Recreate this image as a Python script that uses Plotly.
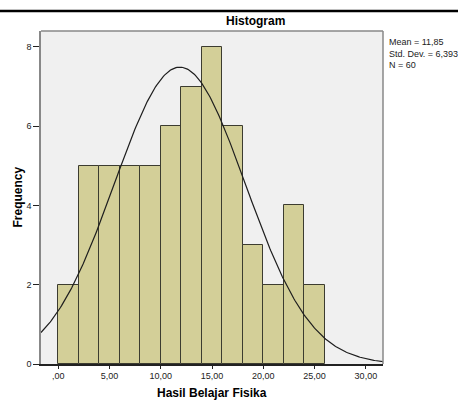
import numpy as np
import plotly.graph_objects as go

bin_left = [0, 2, 4, 6, 8, 10, 12, 14, 16, 18, 20, 22, 24]
counts = [2, 5, 5, 5, 5, 6, 7, 8, 6, 3, 2, 4, 2]
bin_width = 2
mean_val = 11.85
sd_val = 6.393
n_val = 60
x_ticks = [0, 5, 10, 15, 20, 25, 30]
x_tick_labels = [",00", "5,00", "10,00", "15,00", "20,00", "25,00", "30,00"]
y_ticks = [0, 2, 4, 6, 8]

W, H = 458, 401
L, R, T, B = 41, 383, 31, 364

def py(ypx):
    return (B - ypx) / (B - T)

def px(xpx):
    return (xpx - L) / (R - L)

centers = [b + bin_width / 2 for b in bin_left]

xc = np.linspace(-1.69, 31.67, 300)
yc = n_val * bin_width / (sd_val * np.sqrt(2 * np.pi)) * np.exp(-0.5 * ((xc - mean_val) / sd_val) ** 2)

fig = go.Figure()
fig.add_trace(go.Bar(
    x=centers, y=counts, width=[bin_width] * len(counts),
    marker=dict(color="#D3CF98", line=dict(color="#3C3C30", width=1)),
    showlegend=False, hoverinfo="skip"))
fig.add_trace(go.Scatter(
    x=xc, y=yc, mode="lines", line=dict(color="#1E1E1E", width=1.2),
    showlegend=False, hoverinfo="skip"))

fig.update_layout(
    width=W, height=H,
    margin=dict(l=L, r=W - R, t=T, b=H - B, pad=0),
    paper_bgcolor="white", plot_bgcolor="#F0F0F0",
    font=dict(family="Arial, Liberation Sans, sans-serif", size=9, color="#222"),
    bargap=0,
    xaxis=dict(range=[-1.69, 31.67], tickvals=x_ticks, ticktext=x_tick_labels,
               ticks="outside", ticklen=3, tickcolor="#222", showgrid=False,
               zeroline=False, showline=True, linecolor="#222", linewidth=1.5,
               mirror=False, tickfont=dict(size=9), ticklabelstandoff=-1),
    yaxis=dict(range=[0, 8.4], tickvals=y_ticks, ticks="outside", ticklen=6,
               tickcolor="#222", showgrid=False, zeroline=False, showline=True,
               linecolor="#888", linewidth=1.5, tickfont=dict(size=9)),
    shapes=[
        dict(type="line", xref="paper", yref="paper", x0=px(L), x1=px(R), y0=py(T), y1=py(T),
             line=dict(color="#888", width=1.5)),
        dict(type="line", xref="paper", yref="paper", x0=px(R), x1=px(R), y0=py(T), y1=py(B),
             line=dict(color="#888", width=1.5)),
        dict(type="line", xref="paper", yref="paper", x0=px(0), x1=px(W), y0=py(11), y1=py(11),
             line=dict(color="black", width=2.5)),
    ],
    annotations=[
        dict(text="<b>Histogram</b>", xref="paper", yref="paper", x=px(255), y=py(20.5),
             xanchor="center", yanchor="middle", showarrow=False, font=dict(size=12, color="black")),
        dict(text="<b>Hasil Belajar Fisika</b>", xref="paper", yref="paper", x=px(212), y=py(393),
             xanchor="center", yanchor="middle", showarrow=False, font=dict(size=12, color="black")),
        dict(text="<b>Frequency</b>", xref="paper", yref="paper", x=px(17), y=py(197.5),
             xanchor="center", yanchor="middle", textangle=-90, showarrow=False,
             font=dict(size=12, color="black")),
        dict(text="Mean = 11,85<br>Std. Dev. = 6,393<br>N = 60", xref="paper", yref="paper",
             x=px(387), y=py(35), xanchor="left", yanchor="top", align="left", showarrow=False,
             font=dict(size=9, color="#222")),
    ],
)

fig.write_html("out.html", config={"displayModeBar": False},
               post_script="document.body.style.margin='0';document.body.style.overflow='hidden';")
